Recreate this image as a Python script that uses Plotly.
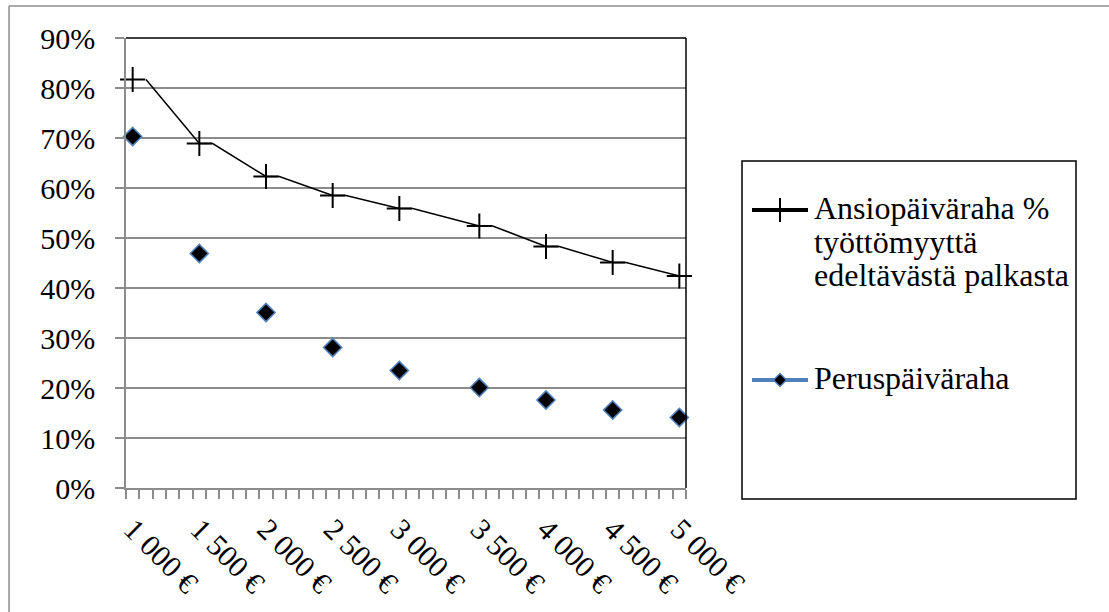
import plotly.graph_objects as go

# ---- data ----
tick_labels = ["1 000 €", "1 500 €", "2 000 €", "2 500 €", "3 000 €",
               "3 500 €", "4 000 €", "4 500 €", "5 000 €"]
# category slot (on the 42-slot category axis) of each labelled salary
label_slots = [0, 5, 10, 15, 20, 26, 31, 36, 41]
n_slots = 42
ansio_values = [81.7, 68.9, 62.3, 58.5, 55.9, 52.4, 48.3, 45.1, 42.4]
perus_values = [70.3, 46.9, 35.1, 28.1, 23.5, 20.1, 17.6, 15.6, 14.1]
y_ticks = [0, 10, 20, 30, 40, 50, 60, 70, 80, 90]

ansio_lines = ["Ansiopäiväraha %", "työttömyyttä", "edeltävästä palkasta"]
perus_lines = ["Peruspäiväraha"]

# line series of Ansiopäiväraha (value held for one extra category slot)
line_x, line_y = [], []
for i, (s, v) in enumerate(zip(label_slots, ansio_values)):
    if i > 0:
        line_x.append(s)
        line_y.append(v)
    line_x.append(s + 1)
    line_y.append(v)

GRID = "#8C8C8C"
BLUE = "#4F81BD"
FONT = "Liberation Serif, DejaVu Serif, serif"

W, H = 1109, 612
L, R, T, B = 126, 0, 38, 124
pw, ph = W - L - R, H - T - B
plot_w = 560                      # plot-area width in px


def px(xp):
    return (xp - L) / pw


def py(yp):
    return (H - B - yp) / ph


# legend layout (pixel positions of the legend box content)
LEG_X0, LEG_X1, LEG_Y0, LEG_Y1 = 742, 1076, 161, 499
key_x = [752, 808]
key_mid = 780
entry_y = [210, 380]
text_x = 812
line_gap = 33.7

fig = go.Figure()
fig.add_trace(go.Scatter(x=line_x, y=line_y, mode="lines",
                         line=dict(color="black", width=1.5),
                         showlegend=False, hoverinfo="skip"))
fig.add_trace(go.Scatter(x=label_slots, y=ansio_values, mode="markers",
                         name="Ansiopäiväraha", text=tick_labels,
                         marker=dict(symbol="cross-thin", size=18,
                                     line=dict(color="black", width=2)),
                         showlegend=False, cliponaxis=False))
fig.add_trace(go.Scatter(x=label_slots, y=perus_values, mode="markers",
                         name="Peruspäiväraha", text=tick_labels,
                         marker=dict(symbol="diamond", size=14, color="black",
                                     line=dict(color=BLUE, width=1.5)),
                         showlegend=False, cliponaxis=False))

# legend keys, drawn in a small auxiliary axis placed over the legend box
fig.add_trace(go.Scatter(x=key_x, y=[entry_y[0]] * 2, mode="lines",
                         xaxis="x2", yaxis="y2", showlegend=False, hoverinfo="skip",
                         line=dict(color="black", width=4)))
fig.add_trace(go.Scatter(x=[key_mid], y=[entry_y[0]], mode="markers",
                         xaxis="x2", yaxis="y2", showlegend=False, hoverinfo="skip",
                         marker=dict(symbol="cross-thin", size=17,
                                     line=dict(color="black", width=2))))
fig.add_trace(go.Scatter(x=key_x, y=[entry_y[1]] * 2, mode="lines",
                         xaxis="x2", yaxis="y2", showlegend=False, hoverinfo="skip",
                         line=dict(color=BLUE, width=4)))
fig.add_trace(go.Scatter(x=[key_mid], y=[entry_y[1]], mode="markers",
                         xaxis="x2", yaxis="y2", showlegend=False, hoverinfo="skip",
                         marker=dict(symbol="diamond", size=10, color="black",
                                     line=dict(color=BLUE, width=1.5))))

annotations = []
for k, (lines, y0) in enumerate(zip([ansio_lines, perus_lines], entry_y)):
    for j, t in enumerate(lines):
        annotations.append(dict(
            xref="paper", yref="paper", x=px(text_x), y=py(y0 - 2 + j * line_gap),
            xanchor="left", yanchor="middle", showarrow=False, text=t,
            font=dict(family=FONT, size=32, color="black")))

shapes = [
    # plot area top and right border (black)
    dict(type="line", xref="x domain", yref="y domain", x0=0, x1=1, y0=1, y1=1,
         line=dict(color="black", width=1.5), layer="above"),
    dict(type="line", xref="x domain", yref="y domain", x0=1, x1=1, y0=0, y1=1,
         line=dict(color="black", width=1.5), layer="above"),
    # legend box
    dict(type="rect", xref="paper", yref="paper", x0=px(LEG_X0), x1=px(LEG_X1),
         y0=py(LEG_Y1), y1=py(LEG_Y0), line=dict(color="black", width=1.5)),
    # outer chart border
    dict(type="line", xref="paper", yref="paper", x0=px(9), x1=px(1115),
         y0=py(6), y1=py(6), line=dict(color="#8E8E8E", width=1.5)),
    dict(type="line", xref="paper", yref="paper", x0=px(9), x1=px(9),
         y0=py(6), y1=py(620), line=dict(color="#8E8E8E", width=1.5)),
]

fig.update_layout(
    width=W, height=H,
    margin=dict(l=L, r=R, t=T, b=B, autoexpand=False),
    paper_bgcolor="white", plot_bgcolor="white",
    font=dict(family=FONT, size=30, color="black"),
    shapes=shapes, annotations=annotations, showlegend=False,
    xaxis=dict(domain=[0, plot_w / pw],
               range=[-0.5, n_slots - 0.5], tickmode="array",
               tickvals=label_slots, ticktext=tick_labels, tickangle=45,
               ticks="", showgrid=False, zeroline=False, automargin=False,
               showline=True, linecolor=GRID, linewidth=1.5,
               ticklabelstandoff=10,
               minor=dict(ticks="outside", tickmode="array",
                          tickvals=[s - 0.5 for s in range(n_slots + 1)],
                          ticklen=9, tickcolor=GRID, tickwidth=1.5,
                          showgrid=False),
               tickfont=dict(family=FONT, size=30, color="black")),
    yaxis=dict(range=[0, 90], tickmode="array", tickvals=y_ticks,
               ticktext=[f"{v}%" for v in y_ticks], automargin=False,
               showgrid=True, gridcolor=GRID, gridwidth=1.5, zeroline=False,
               showline=True, linecolor=GRID, linewidth=1.5,
               ticks="outside", ticklen=9, tickcolor=GRID, tickwidth=1.5,
               ticklabelstandoff=14,
               tickfont=dict(family=FONT, size=30, color="black")),
    xaxis2=dict(domain=[px(LEG_X0), px(LEG_X1)], range=[LEG_X0, LEG_X1],
                visible=False, fixedrange=True, anchor="y2"),
    yaxis2=dict(domain=[0, py(LEG_Y0)], range=[H - B, LEG_Y0],
                visible=False, fixedrange=True, anchor="x2"),
)

fig.write_html("out.html",
               config={"displayModeBar": False},
               post_script="document.body.style.margin='0px';")
